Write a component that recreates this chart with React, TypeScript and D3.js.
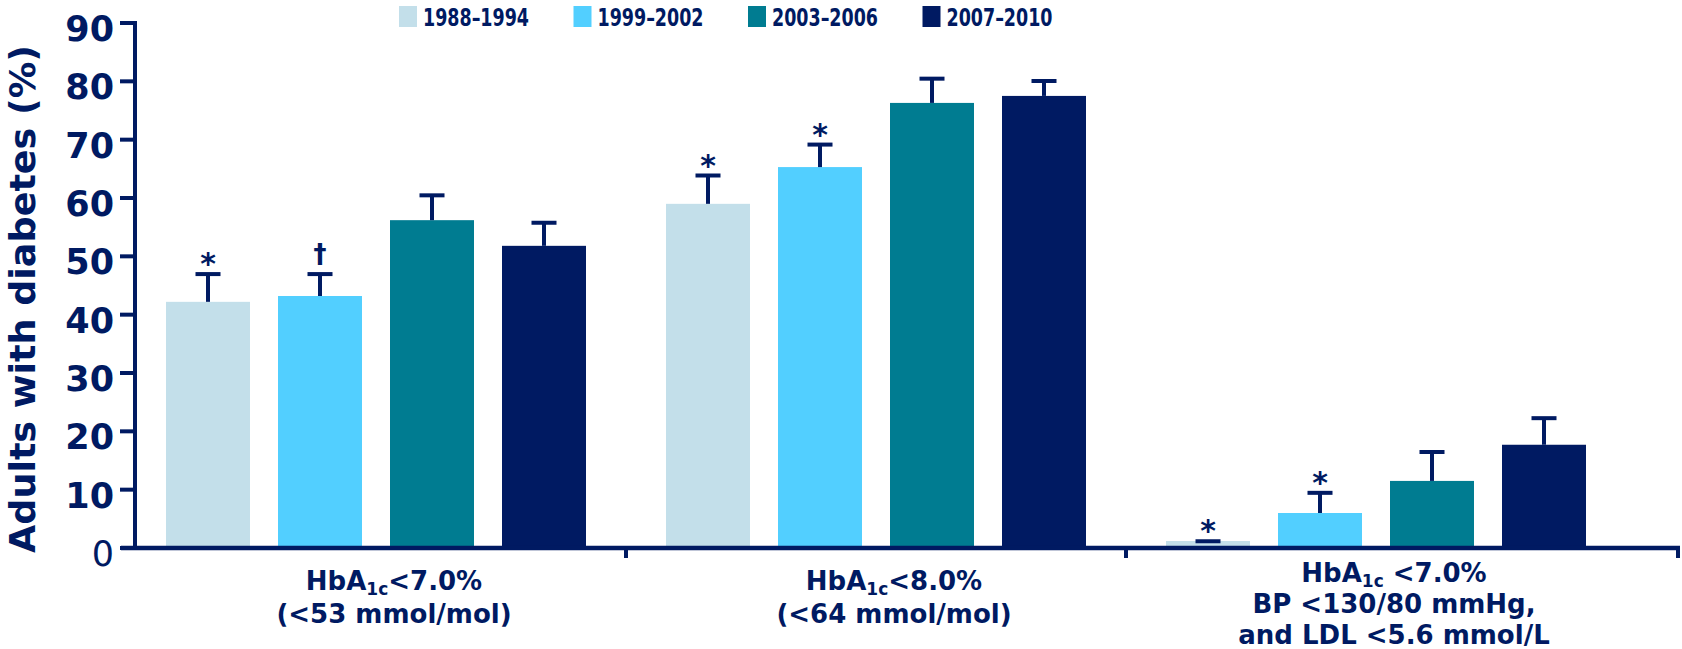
import React from 'react';
import * as d3 from 'd3';

// Survey periods (series) and their fill colours
const periods = ['1988–1994', '1999–2002', '2003–2006', '2007–2010'];
const periodColors = ['#C3DFEA', '#52CFFF', '#007C91', '#001A62'];

// Target categories
const categories = ['a1c7', 'a1c8', 'abc'];

// Share of adults with diabetes meeting each target (%), by period
const pct1988 = [42.2, 59.0, 1.2];
const pct1999 = [43.2, 65.3, 6.0];
const pct2003 = [56.2, 76.3, 11.5];
const pct2007 = [51.8, 77.5, 17.7];

// Upper confidence limits (%)
const upper1988 = [47.3, 64.2, 1.5];
const upper1999 = [47.3, 69.5, 9.8];
const upper2003 = [60.8, 80.8, 16.8];
const upper2007 = [56.1, 80.4, 22.6];

// Significance marks vs 2007–2010
const sig1988 = ['*', '*', '*'];
const sig1999 = ['†', '*', '*'];
const sig2003 = ['', '', ''];
const sig2007 = ['', '', ''];

const yTicks = [0, 10, 20, 30, 40, 50, 60, 70, 80, 90];

type Seg = { t: string; sub?: boolean };
const categoryLabels: Seg[][][] = [
  [
    [{ t: 'HbA' }, { t: '1c', sub: true }, { t: '<7.0%' }],
    [{ t: '(<53 mmol/mol)' }],
  ],
  [
    [{ t: 'HbA' }, { t: '1c', sub: true }, { t: '<8.0%' }],
    [{ t: '(<64 mmol/mol)' }],
  ],
  [
    [{ t: 'HbA' }, { t: '1c', sub: true }, { t: ' <7.0%' }],
    [{ t: 'BP <130/80 mmHg,' }],
    [{ t: 'and LDL <5.6 mmol/L' }],
  ],
];

const NAVY = '#001A62';
const FONT = "'DejaVu Sans', Verdana, sans-serif";

export default function App() {
  const W = 1682;
  const H = 649;

  const series = [
    { name: periods[0], color: periodColors[0], values: pct1988, upper: upper1988, sig: sig1988 },
    { name: periods[1], color: periodColors[1], values: pct1999, upper: upper1999, sig: sig1999 },
    { name: periods[2], color: periodColors[2], values: pct2003, upper: upper2003, sig: sig2003 },
    { name: periods[3], color: periodColors[3], values: pct2007, upper: upper2007, sig: sig2007 },
  ];

  const y = d3.scaleLinear().domain([0, 90]).range([548, 23]);
  const xGroup = d3.scaleBand<string>().domain(categories).range([126, 1626]).padding(0);
  const half = xGroup.bandwidth() / 2;
  const xInner = d3
    .scaleBand<string>()
    .domain(periods)
    .range([half - 224, half + 224])
    .paddingInner(0.25)
    .paddingOuter(0.125);
  const bw = xInner.bandwidth();

  const axisLeft = 135;
  const axisRight = 1680;
  const baseY = y(0);

  // separators between categories plus the axis end
  const sepTicks = categories.slice(1).map((c) => xGroup(c) as number);

  return (
    <svg
      width={W}
      height={H}
      style={{ position: 'absolute', left: 0, top: 0, background: '#fff' }}
      fontFamily={FONT}
    >
      {/* Legend */}
      {series.map((s, i) => {
        const lx = 399 + i * 174.5;
        return (
          <g key={s.name}>
            <rect x={lx} y={6} width={18} height={21} fill={s.color} />
            <text
              x={lx + 24}
              y={26}
              fontSize={24}
              fontWeight="bold"
              fill={NAVY}
              textLength={106}
              lengthAdjust="spacingAndGlyphs"
            >
              {s.name}
            </text>
          </g>
        );
      })}

      {/* Bars */}
      {categories.map((c, gi) =>
        series.map((s) => {
          const x0 = (xGroup(c) as number) + (xInner(s.name) as number);
          const v = s.values[gi];
          return (
            <rect
              key={c + s.name}
              x={x0}
              y={y(v)}
              width={bw}
              height={baseY - y(v)}
              fill={s.color}
            />
          );
        })
      )}

      {/* Error bars and significance marks */}
      {categories.map((c, gi) =>
        series.map((s) => {
          const cx = (xGroup(c) as number) + (xInner(s.name) as number) + bw / 2;
          const v = s.values[gi];
          const u = s.upper[gi];
          const mark = s.sig[gi];
          return (
            <g key={'e' + c + s.name}>
              <line x1={cx} x2={cx} y1={y(v)} y2={y(u) + 2} stroke={NAVY} strokeWidth={4} />
              <rect x={cx - 12.5} y={y(u)} width={25} height={4} fill={NAVY} />
              {mark === '*' && (
                <text x={cx} y={y(u) + 2} textAnchor="middle" fontSize={30} fontWeight="bold" fill={NAVY}>
                  *
                </text>
              )}
              {mark === '†' && (
                <text x={cx} y={y(u) - 9} textAnchor="middle" fontSize={26} fontWeight="bold" fill={NAVY}>
                  †
                </text>
              )}
            </g>
          );
        })
      )}

      {/* Y axis */}
      <line x1={axisLeft} x2={axisLeft} y1={y(90) - 2} y2={baseY + 2} stroke={NAVY} strokeWidth={4} />
      {yTicks.map((t) => (
        <g key={'yt' + t}>
          <line x1={120} x2={axisLeft} y1={y(t)} y2={y(t)} stroke={NAVY} strokeWidth={4} />
          <text
            x={114}
            y={y(t) + 6}
            textAnchor="end"
            dominantBaseline="central"
            fontSize={35}
            fontWeight={t === 0 ? 'normal' : 'bold'}
            fill={NAVY}
          >
            {t}
          </text>
        </g>
      ))}

      {/* X axis */}
      <line x1={121} x2={axisRight} y1={baseY} y2={baseY} stroke={NAVY} strokeWidth={4.5} />
      {sepTicks.map((sx) => (
        <line key={'st' + sx} x1={sx} x2={sx} y1={baseY} y2={baseY + 10} stroke={NAVY} strokeWidth={4} />
      ))}
      <line x1={axisRight - 2} x2={axisRight - 2} y1={baseY} y2={baseY + 10} stroke={NAVY} strokeWidth={4} />

      {/* Category labels */}
      {categories.map((c, gi) => {
        const lines = categoryLabels[gi];
        const cx = (xGroup(c) as number) + half + 18;
        const three = lines.length > 2;
        const top = three ? 582 : 590;
        const step = three ? 31 : 32.5;
        return (
          <g key={'cl' + c}>
            {lines.map((segs, li) => (
              <text
                key={li}
                x={cx}
                y={top + li * step}
                textAnchor="middle"
                fontSize={26}
                fontWeight="bold"
                fill={NAVY}
              >
                {segs.map((sg, si) =>
                  sg.sub ? (
                    <tspan key={si} fontSize={17} dy={5}>
                      {sg.t}
                    </tspan>
                  ) : (
                    <tspan key={si} dy={si > 0 && segs[si - 1].sub ? -5 : 0} style={{ whiteSpace: 'pre' }}>
                      {sg.t}
                    </tspan>
                  )
                )}
              </text>
            ))}
          </g>
        );
      })}

      {/* Y axis title */}
      <text
        transform="translate(22,299) rotate(-90)"
        textAnchor="middle"
        dominantBaseline="central"
        fontSize={36}
        fontWeight="bold"
        fill={NAVY}
        textLength={508}
        lengthAdjust="spacingAndGlyphs"
      >
        Adults with diabetes (%)
      </text>
    </svg>
  );
}
